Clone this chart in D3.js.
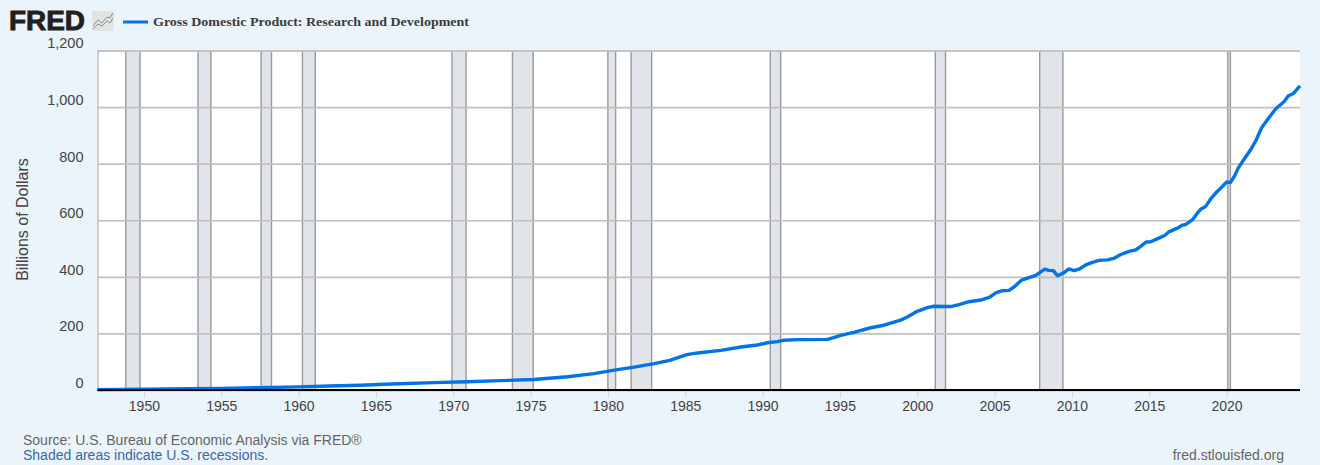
<!DOCTYPE html>
<html>
<head>
<meta charset="utf-8">
<script src="https://cdn.jsdelivr.net/npm/d3@7"></script>
<style>
  html, body { margin: 0; padding: 0; background: #ebf3fb; }
  svg { display: block; }
  text { font-family: "Liberation Sans", Arial, sans-serif; }
</style>
</head>
<body>
<div id="chart"></div>
<script>
// values, year as decimal
var years = [1947, 1950, 1953, 1955, 1957.3, 1960, 1962, 1964, 1966, 1968.75, 1970.9, 1973.05, 1975.2, 1977.4, 1979.1, 1980.4, 1981.7, 1983, 1984, 1985.1, 1985.8, 1987.3, 1988.6, 1989.66, 1990.3, 1990.96, 1991.4, 1992.25, 1993.3, 1994.2, 1994.6, 1995.05, 1995.9, 1997, 1997.85, 1998.93, 1999.36, 2000, 2000.66, 2001.08, 2001.73, 2002.17, 2002.7, 2003.35, 2004.1, 2004.65, 2005.08, 2005.5, 2005.94, 2006.26, 2006.74, 2007.23, 2007.66, 2008.25, 2008.5, 2008.8, 2009.07, 2009.5, 2009.8, 2010.15, 2010.46, 2010.9, 2011.33, 2011.75, 2012.3, 2012.7, 2013.16, 2013.7, 2014.13, 2014.46, 2014.8, 2015.1, 2015.55, 2016, 2016.3, 2016.83, 2017.15, 2017.37, 2017.8, 2018.13, 2018.35, 2018.65, 2019, 2019.33, 2019.65, 2020, 2020.25, 2020.5, 2020.77, 2021.2, 2021.57, 2021.9, 2022.27, 2022.75, 2023.2, 2023.7, 2024, 2024.3, 2024.75]
var values = [1.5, 2.5, 4.5, 5.5, 8, 11, 14, 17, 21, 26, 29, 33, 37, 47, 58, 70, 81, 93, 105, 125, 131, 140, 152, 159, 167, 171, 176, 178, 178, 179, 185, 193, 204, 220, 229, 247, 258, 278, 291, 296, 295, 295, 302, 312, 318, 327, 343, 351, 352, 364, 388, 397, 405, 427, 423, 422, 404, 415, 428, 422, 427, 442, 451, 458, 460, 465, 479, 490, 495, 508, 523, 524, 535, 546, 560, 572, 583, 585, 602, 626, 640, 649, 677, 698, 715, 735, 733, 755, 786, 821, 850, 882, 927, 963, 995, 1018, 1040, 1047, 1075]

var recessionStart = [1948.83, 1953.5, 1957.58, 1960.25, 1969.92, 1973.83, 1980, 1981.5, 1990.5, 2001.17, 2007.92, 2020.08]
var recessionEnd   = [1949.75, 1954.33, 1958.25, 1961.08, 1970.83, 1975.17, 1980.5, 1982.83, 1991.17, 2001.83, 2009.42, 2020.25]

var xTicks = [1950, 1955, 1960, 1965, 1970, 1975, 1980, 1985, 1990, 1995, 2000, 2005, 2010, 2015, 2020]
var yTicks = [0, 200, 400, 600, 800, 1000, 1200]

var seriesName = 'Gross Domestic Product: Research and Development'
var yLabel = 'Billions of Dollars'
var sourceText = 'Source: U.S. Bureau of Economic Analysis via FRED\u00AE'
var shadedText = 'Shaded areas indicate U.S. recessions.'
var siteText = 'fred.stlouisfed.org'

var W = 1320, H = 465
var margin = {top: 50.5, right: 20, bottom: 75, left: 97.5}
var lineColor = '#0073e6'

var svg = d3.select('#chart').append('svg').attr('width', W).attr('height', H)

svg.append('rect').attr('width', W).attr('height', H).attr('fill', '#ebf3fb')

var x = d3.scaleLinear().domain([years[0], years[years.length - 1]]).range([margin.left, W - margin.right])
var y = d3.scaleLinear().domain([0, 1200]).range([H - margin.bottom, margin.top])

// plot background
svg.append('rect')
  .attr('x', x.range()[0]).attr('y', y.range()[1])
  .attr('width', x.range()[1] - x.range()[0]).attr('height', y.range()[0] - y.range()[1])
  .attr('fill', '#fff')

// recessions
var bands = svg.append('g')
recessionStart.forEach(function(s, i) {
  var x0 = x(s), x1 = x(recessionEnd[i])
  bands.append('rect')
    .attr('x', x0).attr('y', y(1200)).attr('width', x1 - x0).attr('height', y(0) - y(1200))
    .attr('fill', '#e1e5e9')
  ;[x0, x1].forEach(function(px) {
    bands.append('line')
      .attr('x1', px).attr('x2', px).attr('y1', y(1200)).attr('y2', y(0))
      .attr('stroke', '#999').attr('stroke-width', 1.4)
  })
})

// y axis + grid
var yAxis = svg.append('g').attr('transform', 'translate(' + margin.left + ',0)')
  .call(d3.axisLeft(y).tickValues(yTicks).tickFormat(d3.format(',')).tickSize(-(x.range()[1] - x.range()[0])).tickPadding(14))
yAxis.select('.domain').attr('stroke', '#c0c0c0').attr('stroke-width', 1.5)
yAxis.selectAll('.tick line').attr('stroke', '#c0c0c0').attr('stroke-width', 1.6)
yAxis.selectAll('.tick text')
  .attr('fill', '#444').attr('font-size', 14.5).attr('dy', '-0.18em')
  .style('font-family', '"Liberation Sans", Arial, sans-serif')

// x axis
var xAxis = svg.append('g').attr('transform', 'translate(0,' + y(0) + ')')
  .call(d3.axisBottom(x).tickValues(xTicks).tickFormat(d3.format('d')).tickSize(8).tickPadding(3))
xAxis.select('.domain').remove()
xAxis.selectAll('.tick line').attr('stroke', '#ccd6eb').attr('stroke-width', 1)
xAxis.selectAll('.tick text')
  .attr('fill', '#444').attr('font-size', 14)
  .style('font-family', '"Liberation Sans", Arial, sans-serif')

// series line
svg.append('path')
  .datum(years)
  .attr('fill', 'none')
  .attr('stroke', lineColor)
  .attr('stroke-width', 3.4)
  .attr('stroke-linejoin', 'round')
  .attr('d', d3.line().x(function(d) { return x(d) }).y(function(d, i) { return y(values[i]) }))

// baseline
svg.append('line')
  .attr('x1', x.range()[0]).attr('x2', x.range()[1]).attr('y1', y(0)).attr('y2', y(0))
  .attr('stroke', '#000').attr('stroke-width', 2)

// y label
svg.append('text')
  .attr('transform', 'translate(28,219.5) rotate(-90)')
  .attr('text-anchor', 'middle').attr('font-size', 16).attr('fill', '#444')
  .text(yLabel)

// FRED logo
svg.append('text')
  .attr('x', 9).attr('y', 30).attr('font-size', 27).attr('font-weight', 'bold')
  .attr('fill', '#231f20').attr('stroke', '#231f20').attr('stroke-width', 0.9)
  .attr('textLength', 76).attr('lengthAdjust', 'spacingAndGlyphs')
  .text('FRED')
var icon = svg.append('g').attr('transform', 'translate(92,11)')
icon.append('rect').attr('width', 22).attr('height', 20).attr('rx', 2).attr('fill', '#e2e4e4')
icon.append('path').attr('d', 'M1,15 L6,9 L10,12 L15,6 L18,7 L21,2').attr('fill', 'none').attr('stroke', '#6f94b5').attr('stroke-width', 1)
icon.append('path').attr('d', 'M1,18 L6,13 L10,15 L15,10 L18,12 L21,7').attr('fill', 'none').attr('stroke', '#78a04f').attr('stroke-width', 1)

// legend
svg.append('line').attr('x1', 123).attr('x2', 148).attr('y1', 22).attr('y2', 22)
  .attr('stroke', lineColor).attr('stroke-width', 3)
svg.append('text')
  .attr('x', 153).attr('y', 26).attr('font-size', 13.5).attr('font-weight', 'bold').attr('fill', '#3c3c3c')
  .style('font-family', '"Liberation Serif", "Times New Roman", serif')
  .attr('textLength', 316).attr('lengthAdjust', 'spacingAndGlyphs')
  .text(seriesName)

// footer
svg.append('text').attr('x', 23).attr('y', 445).attr('font-size', 14).attr('fill', '#666').text(sourceText)
svg.append('text').attr('x', 23).attr('y', 460).attr('font-size', 14).attr('fill', '#3a67a6').text(shadedText)
svg.append('text').attr('x', 1284).attr('y', 460).attr('font-size', 14).attr('fill', '#666').attr('text-anchor', 'end').text(siteText)
</script>
</body>
</html>
